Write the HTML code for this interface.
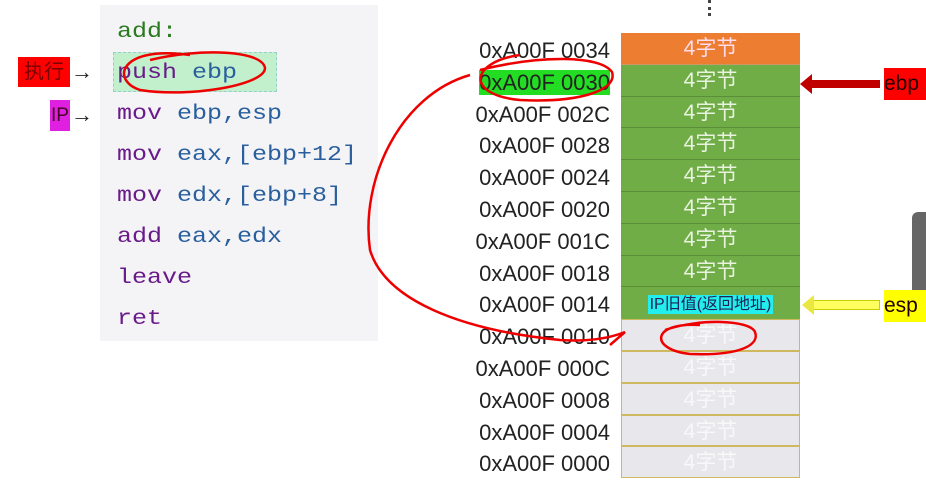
<!DOCTYPE html>
<html><head><meta charset="utf-8"><style>
body{margin:0;width:926px;height:490px;background:#fff;position:relative;overflow:hidden;font-family:"Liberation Sans","Noto Sans CJK SC",sans-serif}
.abs{position:absolute}
#code{left:100px;top:5px;width:278px;height:336px;background:#f4f4f6}
.ln{position:absolute;left:117px;font-family:"Liberation Mono",monospace;font-size:25px;line-height:26px;white-space:pre;transform:scaleY(0.85);transform-origin:left center}
.kw{color:#6a1b8a}.rg{color:#2a5f9e}
.addr{position:absolute;left:446px;width:164px;text-align:right;font-size:22px;color:#222}
.cell{position:absolute;left:621px;width:179px;text-align:center;font-size:21px;box-sizing:border-box}
</style></head><body>
<div class="abs" id="code"></div>
<div class="abs" style="left:113px;top:52px;width:162px;height:38px;background:#c2f0cc;border:1px dashed #9cc"></div>
<div class="ln" style="top:19px;color:#2a7a1e">add:</div>
<div class="ln" style="top:60px"><span class="kw">push</span> <span class="rg">ebp</span></div>
<div class="ln" style="top:101px"><span class="kw">mov</span> <span class="rg">ebp,esp</span></div>
<div class="ln" style="top:142px"><span class="kw">mov</span> <span class="rg">eax,[ebp+12]</span></div>
<div class="ln" style="top:183px"><span class="kw">mov</span> <span class="rg">edx,[ebp+8]</span></div>
<div class="ln" style="top:224px"><span class="kw">add</span> <span class="rg">eax,edx</span></div>
<div class="ln" style="top:265px"><span class="kw">leave</span></div>
<div class="ln" style="top:306px"><span class="kw">ret</span></div>
<div class="abs" style="left:18px;top:57px;width:52px;height:30px;background:#f00;color:#700;font-size:20px;line-height:30px;text-align:center">执行</div>
<div class="abs" style="left:71px;top:57px;font-size:22px;line-height:30px;color:#222">→</div>
<div class="abs" style="left:50px;top:100px;width:20px;height:31px;background:#e020e0;color:#402;font-size:19px;line-height:31px;text-align:center">IP</div>
<div class="abs" style="left:71px;top:100px;font-size:22px;line-height:30px;color:#222">→</div>
<div class="abs" style="left:708px;top:0;width:3px;height:16px;border-left:3px dotted #444"></div>
<div id="stack"></div>
<div class="abs" style="left:912px;top:212px;width:14px;height:96px;background:#666;border-radius:6px 0 0 6px"></div>
<div class="abs" style="left:810px;top:80px;width:70px;height:8px;background:#c00000"></div>
<div class="abs" style="left:800px;top:74px;width:0;height:0;border-top:10px solid transparent;border-bottom:10px solid transparent;border-right:12px solid #c00000"></div>
<div class="abs" style="left:884px;top:68px;width:42px;height:32px;background:#f00;font-size:21px;line-height:32px;color:#200">ebp</div>
<div class="abs" style="left:812px;top:300px;width:66px;height:8px;background:#ffff60;border:1px solid #cc0"></div>
<div class="abs" style="left:802px;top:295px;width:0;height:0;border-top:10px solid transparent;border-bottom:10px solid transparent;border-right:12px solid #e8e840"></div>
<div class="abs" style="left:884px;top:290px;width:42px;height:32px;background:#ff0;font-size:21px;line-height:32px;color:#200">esp</div>
<svg class="abs" style="left:0;top:0" width="926" height="490" fill="none" stroke="#e00" stroke-width="2.5">
<path d="M190 55 C120 45 110 80 140 90 C190 98 265 85 265 68 C262 50 200 48 150 60"/>
<path d="M520 55 C470 62 465 95 520 100 C580 103 618 90 612 72 C600 55 540 55 480 70"/>
<path d="M470 75 C400 95 360 180 370 250 C385 300 460 330 560 340 C590 342 610 338 625 332 L610 345"/>
<path d="M700 325 C650 322 650 350 690 354 C740 356 760 345 755 332 C750 320 700 318 665 330"/>
</svg>
<script>
var addrs=["0xA00F 0034","0xA00F 0030","0xA00F 002C","0xA00F 0028","0xA00F 0024","0xA00F 0020","0xA00F 001C","0xA00F 0018","0xA00F 0014","0xA00F 0010","0xA00F 000C","0xA00F 0008","0xA00F 0004","0xA00F 0000"];
var kinds=["top","used","used","used","used","used","used","used","ret","free","free","free","free","free"];
var s=document.getElementById('stack');
var top0=33,h=31.8;
addrs.forEach(function(a,i){
 var y=top0+i*h;
 var d=document.createElement('div');d.className='addr';d.style.top=(y+2)+'px';d.style.lineHeight=h+'px';d.textContent=a;
 if(i==1){d.innerHTML='<span style="background:#22dd22">'+a+'</span>';}
 
 
 s.appendChild(d);
 var c=document.createElement('div');c.className='cell';c.style.top=y+'px';c.style.height=h+'px';c.style.lineHeight=h+'px';
 var k=kinds[i];
 if(k=='top'){c.style.background='#ed7d31';c.style.color='#fde';c.textContent='4字节';c.style.borderBottom='1px solid #c96';}
 else if(k=='used'){c.style.background='#70ad47';c.style.color='#e8f3e0';c.textContent='4字节';c.style.borderBottom='1px solid #5a8e38';}
 else if(k=='ret'){c.style.background='#70ad47';c.innerHTML='<span style="background:#22eeee;color:#225;font-size:16px;padding:1px 2px">IP旧值(返回地址)</span>';}
 else {c.style.background='#e8e8ec';c.style.color='#f8f8f8';c.textContent='4字节';c.style.border='1.5px solid #d0b860';}
 
 
 s.appendChild(c);
});
</script>
</body></html>
